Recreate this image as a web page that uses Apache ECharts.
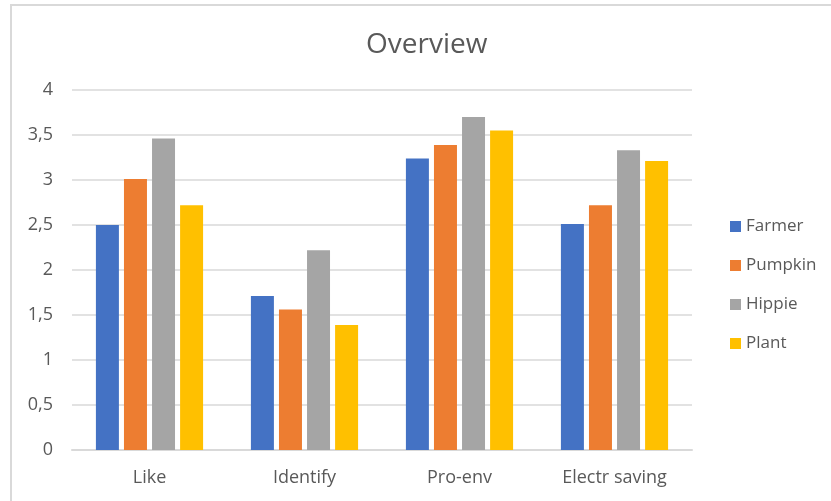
<!DOCTYPE html>
<html>
<head>
<meta charset="utf-8">
<script src="https://cdn.jsdelivr.net/npm/echarts@6/dist/echarts.min.js"></script>
<style>
html,body{margin:0;padding:0;background:#fff;}
#frame{position:absolute;left:10px;top:4px;width:840px;height:520px;border-left:2px solid #d9d9d9;border-top:2px solid #d9d9d9;}
#main{position:absolute;left:0;top:0;width:831px;height:501px;}
</style>
</head>
<body>
<div id="frame"></div>
<div id="main"></div>
<script>
const categories = ['Like', 'Identify', 'Pro-env', 'Electr saving'];
const seriesNames = ['Farmer', 'Pumpkin', 'Hippie', 'Plant'];
const farmer = [2.50, 1.71, 3.24, 2.51];
const pumpkin = [3.01, 1.56, 3.39, 2.72];
const hippie = [3.46, 2.22, 3.70, 3.33];
const plant = [2.72, 1.39, 3.55, 3.21];
const colors = ['#4472C4', '#ED7D31', '#A5A5A5', '#FFC000'];
const values = [farmer, pumpkin, hippie, plant];

const chart = echarts.init(document.getElementById('main'), null, {renderer: 'canvas'});
const font = '"Open Sans", "Noto Sans", sans-serif';
chart.setOption({
  animation: false,
  textStyle: {fontFamily: font},
  title: {
    text: 'Overview', left: 361, top: 26,
    textStyle: {fontSize: 28, fontWeight: 'normal', color: '#595959', fontFamily: font}
  },
  legend: {
    orient: 'vertical', left: 725, top: 213, itemGap: 22,
    itemWidth: 11, itemHeight: 11, icon: 'rect',
    textStyle: {fontSize: 17, color: '#595959', fontFamily: font},
    data: seriesNames
  },
  grid: {left: 72, right: 139, top: 90, bottom: 51, containLabel: false},
  xAxis: {
    type: 'category', data: categories,
    axisLine: {lineStyle: {color: '#d9d9d9', width: 2}},
    axisTick: {show: false},
    axisLabel: {fontSize: 18, color: '#595959', margin: 19, fontFamily: font}
  },
  yAxis: {
    type: 'value', min: 0, max: 4, interval: 0.5,
    axisLine: {show: false}, axisTick: {show: false},
    splitLine: {lineStyle: {color: '#d9d9d9', width: 1.5}},
    axisLabel: {
      fontSize: 18, color: '#595959', margin: 19, fontFamily: font,
      formatter: v => String(v).replace('.', ',')
    }
  },
  series: values.map((d, i) => ({
    name: seriesNames[i], type: 'bar', data: d,
    barWidth: 23, barGap: '22%',
    itemStyle: {color: colors[i]}
  }))
});
</script>
</body>
</html>
